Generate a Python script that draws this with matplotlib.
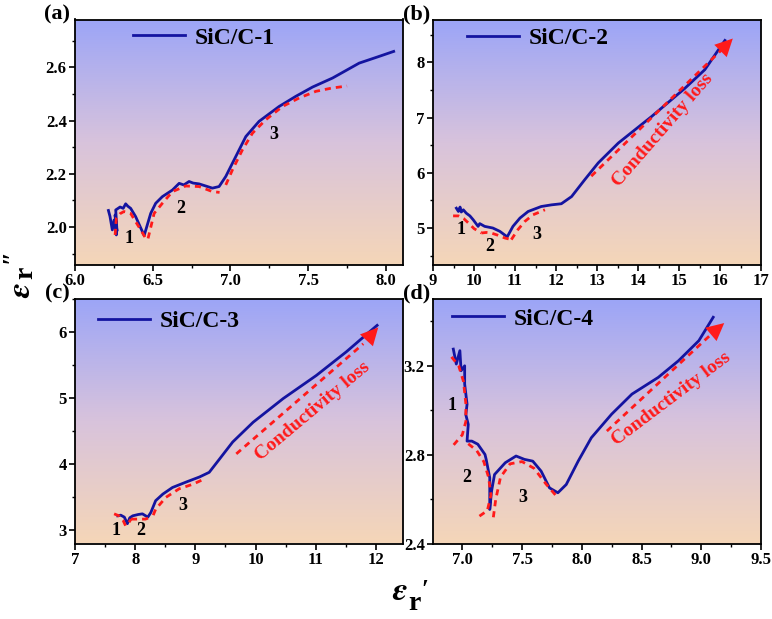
import numpy as np
import matplotlib
matplotlib.use('Agg')
import matplotlib.pyplot as plt
from matplotlib.colors import LinearSegmentedColormap
from matplotlib.ticker import MultipleLocator

plt.rcParams['font.family'] = ['Liberation Serif', 'DejaVu Serif']
plt.rcParams['font.weight'] = 'bold'
plt.rcParams['mathtext.fontset'] = 'stix'

# ---- data ----
# (a) SiC/C-1
a_x = [6.215, 6.225, 6.24, 6.251, 6.266, 6.258, 6.27, 6.262, 6.29, 6.31, 6.326, 6.34, 6.358,
       6.39, 6.42, 6.445, 6.487, 6.519, 6.562, 6.627, 6.67, 6.70, 6.734, 6.76, 6.798, 6.884,
       6.927, 6.97, 7.013, 7.099, 7.184, 7.313, 7.42, 7.528, 7.657, 7.828, 7.95, 8.05]
a_y = [2.062, 2.04, 1.989, 2.026, 1.970, 2.045, 1.985, 2.064, 2.075, 2.07, 2.087, 2.078, 2.070,
       2.039, 2.0, 1.968, 2.051, 2.089, 2.114, 2.139, 2.164, 2.158, 2.171, 2.165, 2.162, 2.146,
       2.152, 2.19, 2.24, 2.34, 2.397, 2.453, 2.491, 2.526, 2.56, 2.616, 2.64, 2.66]
a_fit = [
    ([6.258, 6.266, 6.29, 6.315, 6.358, 6.39, 6.423, 6.455],
     [1.970, 2.033, 2.05, 2.058, 2.051, 2.02, 1.989, 1.957]),
    ([6.47, 6.509, 6.562, 6.627, 6.712, 6.798, 6.884, 6.93],
     [1.957, 2.051, 2.089, 2.133, 2.154, 2.152, 2.133, 2.13]),
    ([6.97, 7.013, 7.077, 7.142, 7.227, 7.335, 7.442, 7.55, 7.65, 7.75],
     [2.158, 2.215, 2.29, 2.353, 2.403, 2.453, 2.485, 2.51, 2.522, 2.53]),
]
a_marks = [('1', 6.348, 1.957), ('2', 6.68, 2.07), ('3', 7.28, 2.346)]

# (b) SiC/C-2
b_x = [9.57, 9.62, 9.66, 9.69, 9.74, 9.81, 9.90, 9.98, 10.10, 10.14, 10.26, 10.46, 10.63, 10.81,
       10.95, 11.12, 11.32, 11.64, 11.89, 12.13, 12.38, 12.70, 13.03, 13.52, 14.33,
       15.14, 15.63, 16.12]
b_y = [5.36, 5.30, 5.38, 5.29, 5.33, 5.27, 5.22, 5.15, 5.03, 5.08, 5.03, 5.0, 4.94, 4.84,
       5.03, 5.18, 5.30, 5.39, 5.42, 5.44, 5.57, 5.875, 6.18, 6.54, 7.02,
       7.53, 7.87, 8.40]
b_fit = [
    ([9.49, 9.62, 9.75, 9.88, 10.0, 10.18],
     [5.22, 5.22, 5.17, 5.08, 4.99, 4.91]),
    ([10.18, 10.30, 10.42, 10.58, 10.75, 10.91],
     [4.91, 4.92, 4.91, 4.87, 4.82, 4.79]),
    ([10.91, 11.07, 11.24, 11.44, 11.73],
     [4.79, 4.97, 5.12, 5.24, 5.33]),
    ([12.86, 16.04], [5.94, 8.23]),
]
b_tip = (16.36, 8.47)
b_marks = [('1', 9.69, 4.97), ('2', 10.38, 4.67), ('3', 11.52, 4.88)]
b_loss = (14.6, 6.78, 49)

# (c) SiC/C-3
c_x = [7.71, 7.76, 7.82, 7.87, 7.91, 7.96, 8.05, 8.12, 8.21, 8.26, 8.34, 8.46, 8.62, 8.84,
       9.07, 9.23, 9.40, 9.62, 9.96, 10.46, 11.01, 11.51, 11.84, 12.02]
c_y = [3.21, 3.22, 3.19, 3.09, 3.18, 3.21, 3.23, 3.24, 3.19, 3.26, 3.44, 3.54, 3.64, 3.72,
       3.80, 3.87, 4.07, 4.33, 4.63, 4.99, 5.34, 5.70, 5.96, 6.10]
c_fit = [
    ([7.65, 7.73, 7.80, 7.84, 7.89, 7.93],
     [3.24, 3.21, 3.14, 3.06, 3.10, 3.16]),
    ([7.93, 8.07, 8.17, 8.26], [3.16, 3.16, 3.16, 3.19]),
    ([8.30, 8.34, 8.51, 8.73, 8.96, 9.15],
     [3.22, 3.31, 3.49, 3.62, 3.69, 3.77]),
    ([9.68, 11.79], [4.15, 5.82]),
]
c_tip = (12.07, 6.10)
c_marks = [('1', 7.68, 2.98), ('2', 8.09, 2.98), ('3', 8.79, 3.36)]
c_loss = (10.95, 4.80, 40)

# (d) SiC/C-4
d_x = [6.925, 6.95, 6.98, 6.99, 7.02, 7.02, 7.04, 7.03, 7.05, 7.04, 7.08, 7.13, 7.19, 7.20,
       7.23, 7.23, 7.23, 7.245, 7.27, 7.36, 7.45, 7.52, 7.59, 7.66, 7.73, 7.80, 7.87,
       7.97, 8.08, 8.25, 8.42, 8.64, 8.81, 8.98, 9.10]
d_y = [3.275, 3.208, 3.268, 3.178, 3.20, 3.118, 3.028, 2.98, 2.937, 2.862, 2.862, 2.848, 2.802,
       2.78, 2.697, 2.637, 2.555, 2.637, 2.712, 2.765, 2.795, 2.78, 2.772, 2.727, 2.652, 2.63,
       2.667, 2.772, 2.877, 2.983, 3.073, 3.148, 3.223, 3.313, 3.418]
d_fit = [
    ([6.91, 6.97, 7.01, 7.03, 7.03, 7.00, 6.92],
     [3.24, 3.20, 3.13, 3.03, 2.95, 2.89, 2.84]),
    ([7.05, 7.12, 7.18, 7.22, 7.24, 7.21, 7.13],
     [2.85, 2.82, 2.77, 2.70, 2.62, 2.55, 2.52]),
    ([7.26, 7.28, 7.32, 7.40, 7.50, 7.60, 7.70, 7.78],
     [2.52, 2.60, 2.70, 2.76, 2.77, 2.74, 2.67, 2.62]),
    ([8.21, 9.10], [2.907, 3.35]),
]
d_tip = (9.21, 3.40)
d_marks = [('1', 6.91, 3.02), ('2', 7.04, 2.70), ('3', 7.51, 2.61)]
d_loss = (8.75, 3.05, 37)

blue = '#1414a0'
red = '#ff1a1a'
bg = LinearSegmentedColormap.from_list('bg', ['#f5d6b8', '#d8c3dc', '#9ca5f7'])

fig = plt.figure(figsize=(7.72, 6.19), dpi=100)
W, H = 772.0, 619.0


def make_ax(l, t, r, b):
    return fig.add_axes([l / W, 1 - b / H, (r - l) / W, (b - t) / H])


def ftext(px, py, s, **kw):
    fig.text(px / W, 1 - py / H, s, ha='center', va='center', **kw)


panels = [
    dict(box=(75, 19.5, 403, 265), x=a_x, y=a_y, fit=a_fit, marks=a_marks, tip=None, loss=None,
         xlim=(6.0, 8.11), ylim=(1.857, 2.78), xt=(0.5, 0.25), yt=(0.2, 0.1), fmt='{x:.1f}',
         yfmt='{x:.1f}', name='SiC/C-1', leg=(0.177, 0.969), tag='(a)', tagpos=(57, 14)),
    dict(box=(433, 20, 761, 265), x=b_x, y=b_y, fit=b_fit, marks=b_marks, tip=b_tip, loss=b_loss,
         xlim=(9, 17), ylim=(4.33, 8.77), xt=(1, 0.5), yt=(1, 0.5), fmt='{x:.0f}',
         yfmt='{x:.0f}', name='SiC/C-2', leg=(0.104, 0.969), tag='(b)', tagpos=(417, 14)),
    dict(box=(75, 299, 403, 543.5), x=c_x, y=c_y, fit=c_fit, marks=c_marks, tip=c_tip, loss=c_loss,
         xlim=(7, 12.45), ylim=(2.79, 6.5), xt=(1, 0.5), yt=(1, 0.5), fmt='{x:.0f}',
         yfmt='{x:.0f}', name='SiC/C-3', leg=(0.07, 0.953), tag='(c)', tagpos=(57, 293)),
    dict(box=(433, 299, 761, 544), x=d_x, y=d_y, fit=d_fit, marks=d_marks, tip=d_tip, loss=d_loss,
         xlim=(6.755, 9.5), ylim=(2.4, 3.5), xt=(0.5, 0.25), yt=(0.4, 0.2), fmt='{x:.1f}',
         yfmt='{x:.1f}', name='SiC/C-4', leg=(0.058, 0.963), tag='(d)', tagpos=(417, 293)),
]

for p in panels:
    ax = make_ax(*p['box'])
    grad = np.linspace(0, 1, 256).reshape(-1, 1)
    ax.imshow(grad, cmap=bg, aspect='auto', extent=[0, 1, 0, 1], origin='lower',
              transform=ax.transAxes, zorder=0)
    ax.plot(p['x'], p['y'], color=blue, lw=2.0, label=p['name'], zorder=3)
    for fx, fy in p['fit']:
        ax.plot(fx, fy, color=red, lw=2.0, ls=(0, (2.2, 1.8)), zorder=4)
    if p['tip'] is not None:
        fx, fy = p['fit'][-1]
        ax.annotate('', xy=p['tip'], xytext=(fx[-1], fy[-1]),
                    arrowprops=dict(arrowstyle='-|>,head_length=0.9,head_width=0.45',
                                    color=red, lw=0, mutation_scale=14), zorder=5)
        lx, ly, ang = p['loss']
        ax.text(lx, ly, 'Conductivity loss', color=red, fontsize=14, rotation=ang,
                ha='center', va='center', zorder=5)
    for s, mx, my in p['marks']:
        ax.text(mx, my, s, fontsize=13, ha='center', va='center', zorder=5)
    ax.set_xlim(*p['xlim'])
    ax.set_ylim(*p['ylim'])
    ax.xaxis.set_major_locator(MultipleLocator(p['xt'][0]))
    ax.xaxis.set_minor_locator(MultipleLocator(p['xt'][1]))
    ax.yaxis.set_major_locator(MultipleLocator(p['yt'][0]))
    ax.yaxis.set_minor_locator(MultipleLocator(p['yt'][1]))
    ax.xaxis.set_major_formatter(p['fmt'])
    ax.yaxis.set_major_formatter(p['yfmt'])
    ax.tick_params(which='major', direction='out', length=4, width=1.2, labelsize=12, pad=2)
    ax.tick_params(which='minor', direction='out', length=2.5, width=1.0)
    for sp in ax.spines.values():
        sp.set_linewidth(1.3)
    ax.legend(loc='upper left', bbox_to_anchor=p['leg'], frameon=False, fontsize=17,
              handlelength=2.2, handletextpad=0.4, borderpad=0, borderaxespad=0)
    ftext(p['tagpos'][0], p['tagpos'][1], p['tag'], fontsize=16)

# axis labels: epsilon, bold subscript r, primes
ftext(400, 591, r'$\varepsilon$', fontsize=24)
ftext(414, 603, 'r', fontsize=20)
ftext(425, 590, '\u2032', fontsize=18)

ftext(21, 290, r'$\varepsilon$', fontsize=24, rotation=90)
ftext(26, 273, 'r', fontsize=20, rotation=90)
ftext(12, 256, '\u2033', fontsize=18, rotation=90)

fig.savefig('out.png', dpi=100)
